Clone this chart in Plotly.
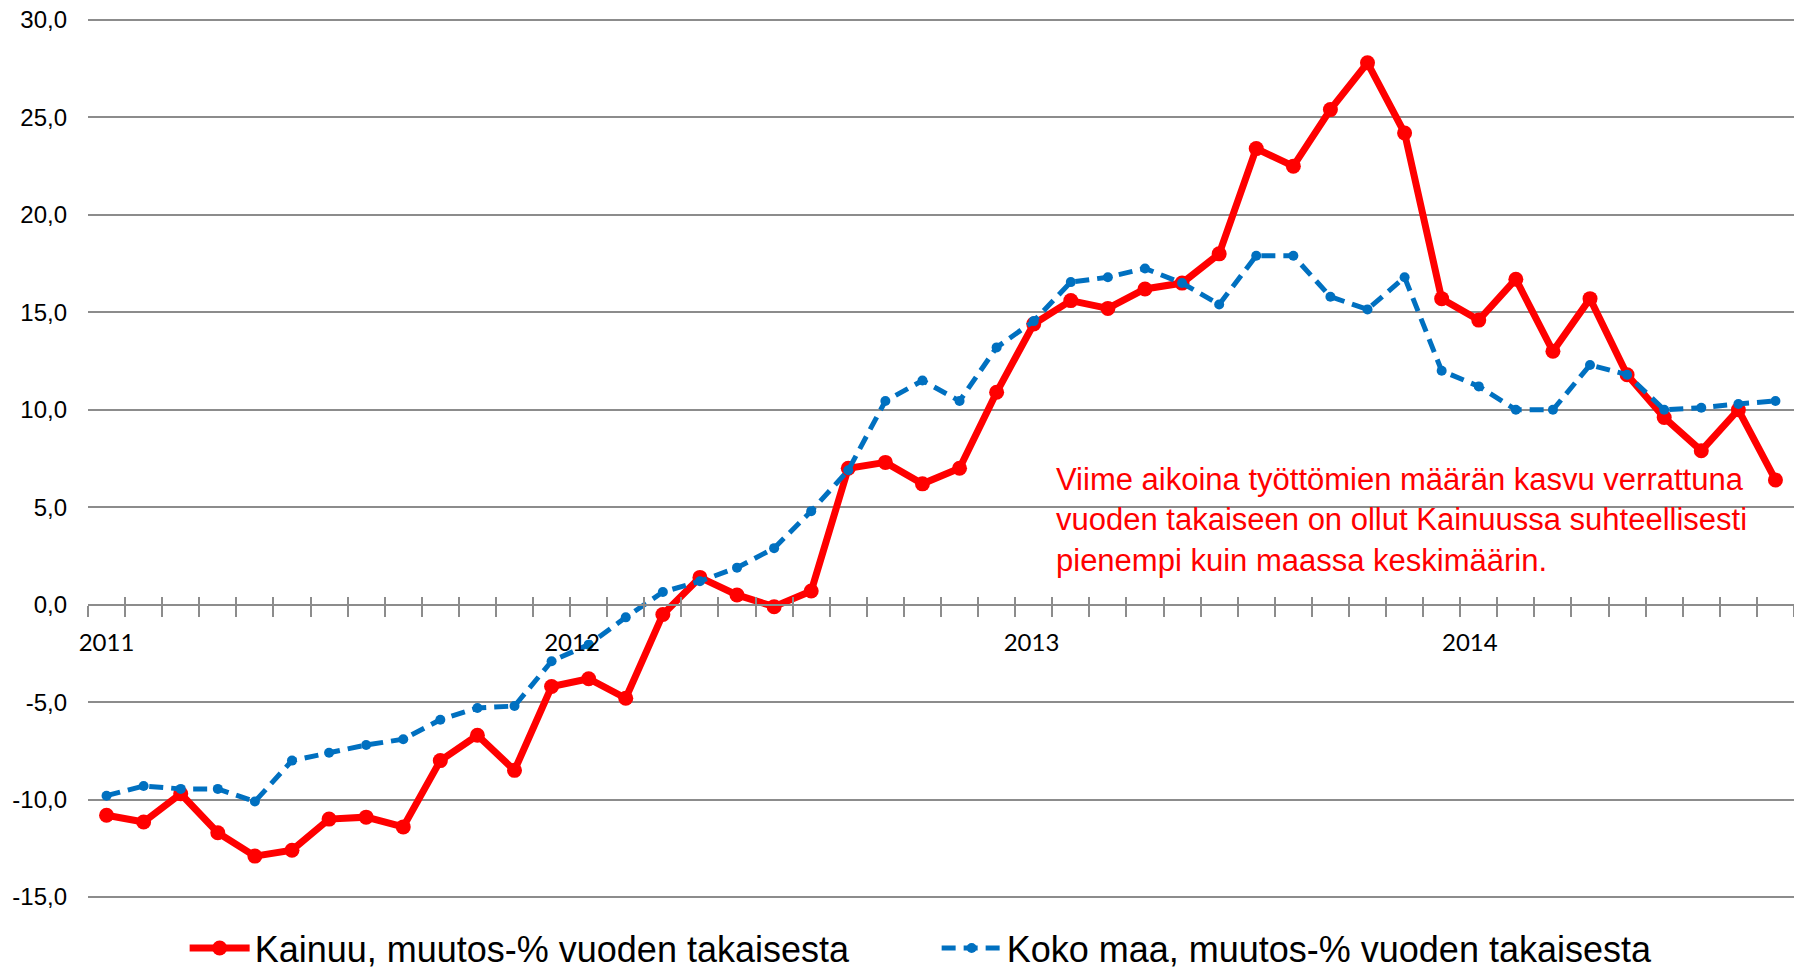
import plotly.graph_objects as go

# Monthly data Jan 2011 - Oct 2014 (46 months)
months = list(range(46))
kainuu = [-10.8, -11.15, -9.7, -11.7, -12.9, -12.6, -11.0, -10.9, -11.4, -8.0, -6.7, -8.5,
          -4.2, -3.8, -4.8, -0.5, 1.4, 0.5, -0.1, 0.7, 7.0, 7.3, 6.2, 7.0,
          10.9, 14.4, 15.6, 15.2, 16.2, 16.5, 18.0, 23.4, 22.5, 25.4, 27.8, 24.2,
          15.7, 14.6, 16.7, 13.0, 15.7, 11.8, 9.6, 7.9, 10.0, 6.4]
koko_maa = [-9.8, -9.3, -9.45, -9.45, -10.1, -8.0, -7.6, -7.2, -6.9, -5.9, -5.3, -5.2,
            -2.9, -2.05, -0.65, 0.65, 1.2, 1.9, 2.9, 4.8, 6.9, 10.45, 11.5, 10.45,
            13.2, 14.55, 16.55, 16.8, 17.25, 16.5, 15.4, 17.9, 17.9, 15.8, 15.15, 16.8,
            12.0, 11.2, 10.0, 10.0, 12.3, 11.8, 10.0, 10.1, 10.3, 10.45]
year_labels = ["2011", "2012", "2013", "2014"]
y_ticks = [-15, -10, -5, 0, 5, 10, 15, 20, 25, 30]
y_ticktext = ["-15,0", "-10,0", "-5,0", "0,0", "5,0", "10,0", "15,0", "20,0", "25,0", "30,0"]
name_kainuu = "Kainuu, muutos-% vuoden takaisesta"
name_koko = "Koko maa, muutos-% vuoden takaisesta"
note = ("Viime aikoina työttömien määrän kasvu verrattuna<br>"
        "vuoden takaiseen on ollut Kainuussa suhteellisesti<br>"
        "pienempi kuin maassa keskimäärin.")

year_label_pos = [0, 12.55, 24.94, 36.76]
GRID = "#8c8c8c"
XR = [-0.5, 45.5]
YR = [-15.1, 30.1]
zero_pos = (0 - YR[0]) / (YR[1] - YR[0])

fig = go.Figure()
fig.add_trace(go.Scatter(x=months, y=kainuu, name=name_kainuu, mode="lines+markers",
                         line=dict(color="#ff0000", width=7),
                         marker=dict(color="#ff0000", size=15), cliponaxis=False))
fig.add_trace(go.Scatter(x=months, y=koko_maa, name=name_koko, mode="lines+markers",
                         line=dict(color="#0070c0", width=5, dash="14px,8px"),
                         marker=dict(color="#0070c0", size=10), cliponaxis=False))

fig.update_layout(
    width=1794, height=970,
    margin=dict(l=88, r=0, t=17.5, b=71, autoexpand=False),
    plot_bgcolor="white", paper_bgcolor="white",
    font=dict(family="Liberation Sans, Arial, sans-serif", color="black"),
    xaxis=dict(range=XR, anchor="free", position=zero_pos,
               tickmode="array", tickvals=year_label_pos, ticktext=year_labels,
               ticks="", showgrid=False, zeroline=False,
               showline=True, linecolor=GRID, linewidth=2,
               tickfont=dict(family="Lato, sans-serif", size=24, color="black"),
               ticklabelstandoff=17,
               minor=dict(tickmode="linear", tick0=-0.5, dtick=1, ticks="outside",
                          ticklen=11, tickwidth=2, tickcolor=GRID, showgrid=False)),
    xaxis2=dict(range=XR, overlaying="x", anchor="free", position=zero_pos, side="bottom",
                tickmode="linear", tick0=-0.5, dtick=1, ticks="inside", ticklen=8,
                tickwidth=2, tickcolor=GRID, showticklabels=False, showgrid=False,
                zeroline=False, showline=False),
    yaxis=dict(range=YR, tickmode="array", tickvals=y_ticks, ticktext=y_ticktext,
               showgrid=True, gridcolor=GRID, gridwidth=2, zeroline=False,
               ticks="", ticklabelstandoff=20, ticklabeloverflow="allow",
               tickfont=dict(family="Liberation Sans, Arial, sans-serif", size=24, color="black")),
    legend=dict(orientation="h", xref="container", yref="paper",
                x=0.5221, xanchor="center", y=-0.0557, yanchor="middle",
                font=dict(family="Liberation Sans, Arial, sans-serif", size=36, color="black"),
                itemwidth=60, entrywidth=677),
    showlegend=True,
)
fig.add_trace(go.Scatter(x=[None], y=[None], xaxis="x2", showlegend=False, hoverinfo="skip"))

fig.add_annotation(x=25.54, y=7.43, xref="x", yref="y", xanchor="left", yanchor="top",
                   text=note, showarrow=False, align="left",
                   font=dict(family="Liberation Sans, Arial, sans-serif", size=31, color="#ff0000"))

fig.write_html("out.html", config={"displayModeBar": False},
               post_script="document.body.style.margin='0px';document.body.style.overflow='hidden';")
